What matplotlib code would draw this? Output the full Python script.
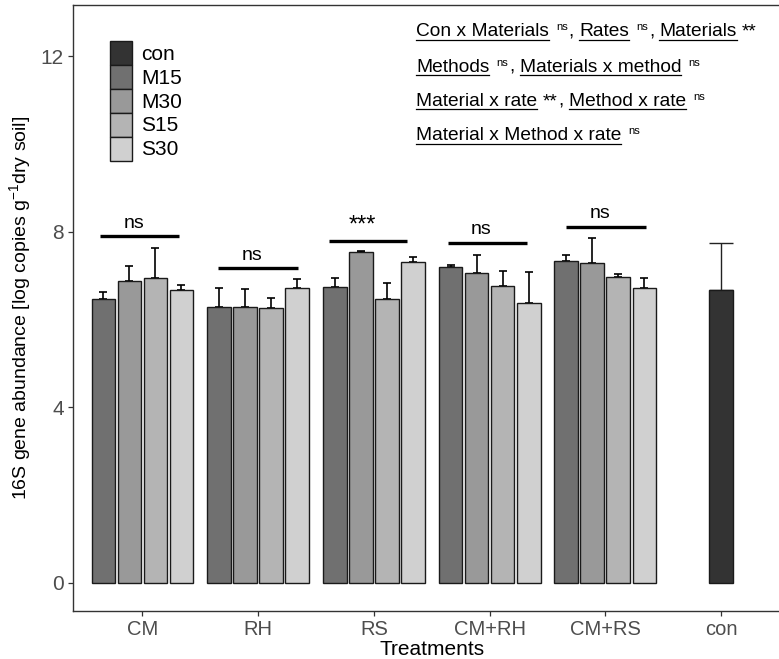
import matplotlib
matplotlib.use("Agg")
import matplotlib.pyplot as plt
from matplotlib.patches import Rectangle
from matplotlib.lines import Line2D
import numpy as np

plt.rcParams['font.family'] = ['Liberation Sans', 'DejaVu Sans']
plt.rcParams['mathtext.fontset'] = 'custom'
plt.rcParams['mathtext.rm'] = 'Liberation Sans'
plt.rcParams['mathtext.it'] = 'Liberation Sans:italic'

# ---------------- data ----------------
groups = ['CM', 'RH', 'RS', 'CM+RH', 'CM+RS']
categories = groups + ['con']
series = ['M15', 'M30', 'S15', 'S30']
M15 = [6.46, 6.30, 6.74, 7.19, 7.34]
M30 = [6.89, 6.29, 7.55, 7.06, 7.28]
S15 = [6.94, 6.26, 6.48, 6.76, 6.98]
S30 = [6.68, 6.73, 7.31, 6.39, 6.73]
M15_se = [0.18, 0.43, 0.21, 0.05, 0.14]
M30_se = [0.34, 0.42, 0.01, 0.42, 0.59]
S15_se = [0.70, 0.23, 0.36, 0.34, 0.05]
S30_se = [0.10, 0.19, 0.11, 0.69, 0.22]
con_value = 6.68
con_se = 1.07
sig_labels = ['ns', 'ns', '***', 'ns', 'ns']
sig_heights = [7.90, 7.17, 7.79, 7.75, 8.12]
sig_left = [-0.37, -0.35, -0.39, -0.36, -0.34]
sig_right = [0.32, 0.34, 0.29, 0.32, 0.35]
legend_labels = ['con', 'M15', 'M30', 'S15', 'S30']
yticks = [0, 4, 8, 12]

colors = {'con': '#333333', 'M15': '#707070', 'M30': '#999999',
          'S15': '#b4b4b4', 'S30': '#d0d0d0'}

W, H = 779, 659
fig = plt.figure(figsize=(W / 100, H / 100), dpi=100)

def fx(px):
    return px / W

def fy(py):
    return 1 - py / H

# axes placement (pixels)
ax_l, ax_r, ax_t, ax_b = 73, 790.5, 5, 611
ax = fig.add_axes([fx(ax_l), fy(ax_b), fx(ax_r - ax_l), (ax_b - ax_t) / H])
ax.set_xlim(0.4, 6.6)
ax.set_ylim(-0.638, 13.17)

slot = 0.225
bw = 0.205
x = np.arange(1, len(groups) + 1)
vals = [M15, M30, S15, S30]
ses = [M15_se, M30_se, S15_se, S30_se]
for i, (name, v, e) in enumerate(zip(series, vals, ses)):
    xp = x + (i - 1.5) * slot
    ax.bar(xp, v, width=bw, color=colors[name], edgecolor='#1a1a1a',
           linewidth=1.0, zorder=2)
    ax.errorbar(xp, v, yerr=[np.zeros(len(v)), e], fmt='none', ecolor='black',
                elinewidth=1.2, capsize=2.6, capthick=1.2, zorder=1)

xc = len(categories)
ax.bar([xc], [con_value], width=bw, color=colors['con'], edgecolor='#1a1a1a',
       linewidth=1.0, zorder=2)
ax.errorbar([xc], [con_value], yerr=[[0], [con_se]], fmt='none', ecolor='#222222',
            elinewidth=1.0, capsize=8.3, capthick=1.0, zorder=1)

# significance bars
for xi, lab, h, l, r in zip(x, sig_labels, sig_heights, sig_left, sig_right):
    ax.plot([xi + l, xi + r], [h, h], color='black', lw=2.4, solid_capstyle='butt')
    off = 0.10 if lab == '***' else 0.10
    ax.text(xi + (l + r) / 2 - 0.05, h + off, lab, ha='center', va='bottom',
            fontsize=14 if lab == 'ns' else 17, color='black')

# axes styling
ax.set_xticks(range(1, len(categories) + 1))
ax.set_xticklabels(categories)
ax.set_yticks(yticks)
for s in ax.spines.values():
    s.set_color('#333333')
    s.set_linewidth(1.0)
ax.tick_params(axis='both', colors='#333333', length=3.5, width=0.9,
               labelcolor='#4d4d4d')
ax.tick_params(axis='x', pad=3, labelsize=14.5)
ax.tick_params(axis='y', pad=3, labelsize=15)
ax.set_xlabel('Treatments', fontsize=15, color='black', labelpad=1)
ax.set_ylabel('16S gene abundance [log copies g$^{\\mathregular{-1}}$dry soil]',
              fontsize=14, color='black', labelpad=6)

# legend (manual, ggplot-style)
key_x, key_y0, key_w, key_h = 109.5, 41.5, 22.5, 23.8
for i, lab in enumerate(legend_labels):
    top = key_y0 + i * key_h
    fig.add_artist(Rectangle((fx(key_x), fy(top + key_h)), fx(key_w), key_h / H,
                             transform=fig.transFigure, facecolor=colors[lab],
                             edgecolor='#1a1a1a', linewidth=1.0))
    fig.text(fx(141), fy(top + key_h / 2 + 1), lab, fontsize=15, va='center',
             ha='left', color='black')

# rich annotation lines (underlined terms + superscripts)
fig.canvas.draw()
renderer = fig.canvas.get_renderer()

def twidth(s, size):
    t = fig.text(0, 0, s, fontsize=size)
    w = t.get_window_extent(renderer).width
    t.remove()
    return w

FS = 13.8
SUP = 8.0
space = twidth('a a', FS) - twidth('aa', FS)

ann_lines = [
    [('Con x Materials', 'u'), ('ns', 's'), (',', 'n'), ('Rates', 'u'), ('ns', 's'),
     (',', 'n'), ('Materials', 'u'), ('**', 'n')],
    [('Methods', 'u'), ('ns', 's'), (',', 'n'), ('Materials x method', 'u'), ('ns', 's')],
    [('Material x rate', 'u'), ('**', 'n'), (',', 'n'), ('Method x rate', 'u'), ('ns', 's')],
    [('Material x Method x rate', 'u'), ('ns', 's')],
]
baselines = [36.5, 71.5, 106, 140.5]
x0 = 416
for segs, base in zip(ann_lines, baselines):
    cx = x0
    prev = None
    for txt, st in segs:
        if prev is not None:
            if txt == ',':
                cx += 1.0
            elif st == 's':
                cx += space * 1.3
            else:
                cx += space
        if st == 's':
            t = fig.text(fx(cx), fy(base - 6.0), txt, fontsize=SUP, va='baseline',
                         ha='left', color='black')
        else:
            t = fig.text(fx(cx), fy(base), txt, fontsize=FS, va='baseline',
                         ha='left', color='black')
        w = t.get_window_extent(renderer).width
        if st == 'u':
            fig.add_artist(Line2D([fx(cx), fx(cx + w)], [fy(base + 3), fy(base + 3)],
                                  transform=fig.transFigure, color='black', lw=0.9))
        cx += w
        prev = st

fig.savefig('out.png', dpi=100)
